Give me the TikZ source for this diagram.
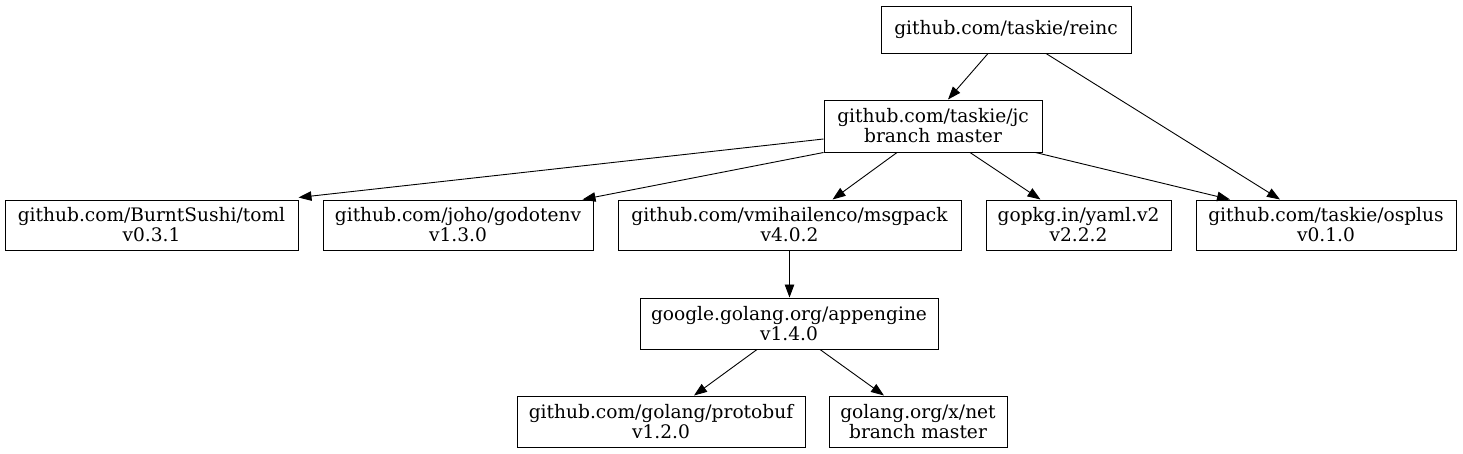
\documentclass[tikz,border=0pt]{standalone}
\usepackage{fontspec}
\setmainfont{DejaVu Serif}
\usetikzlibrary{arrows.meta,calc}
\begin{document}
\begin{tikzpicture}[x=1pt,y=-1pt,
  pkg/.style={draw,line width=1pt,inner sep=0pt,align=center,font=\fontsize{18.6}{20}\selectfont},
  dep/.style={line width=0.9pt,-{Triangle[length=13pt,width=9.5pt]}}]
\useasboundingbox (0,0) rectangle (1463,453);
\node[pkg,minimum width=250pt,minimum height=47pt] (reinc) at (1006,29.5) {github.com/taskie/reinc};
\node[pkg,minimum width=218pt,minimum height=52pt] (jc) at (933,126) {github.com/taskie/jc\\branch master};
\node[pkg,minimum width=293pt,minimum height=50pt] (toml) at (151.5,225) {github.com/BurntSushi/toml\\v0.3.1};
\node[pkg,minimum width=270pt,minimum height=50pt] (godotenv) at (458,225) {github.com/joho/godotenv\\v1.3.0};
\node[pkg,minimum width=343pt,minimum height=50pt] (msgpack) at (789.5,225) {github.com/vmihailenco/msgpack\\v4.0.2};
\node[pkg,minimum width=185pt,minimum height=50pt] (yaml) at (1078.5,225) {gopkg.in/yaml.v2\\v2.2.2};
\node[pkg,minimum width=260pt,minimum height=50pt] (osplus) at (1326,225) {github.com/taskie/osplus\\v0.1.0};
\node[pkg,minimum width=298pt,minimum height=51pt] (appengine) at (789,323.5) {google.golang.org/appengine\\v1.4.0};
\node[pkg,minimum width=288pt,minimum height=51pt] (protobuf) at (661,421.5) {github.com/golang/protobuf\\v1.2.0};
\node[pkg,minimum width=178pt,minimum height=51pt] (net) at (918,421.5) {golang.org/x/net\\branch master};
\draw[dep] ([xshift=-18pt]reinc.south) -- ([xshift=15pt]jc.north);
\draw[dep] ([xshift=40pt]reinc.south) -- ([xshift=-46pt]osplus.north);
\draw[dep] ([yshift=-13pt]jc.west) -- ([yshift=2pt]toml.north east);
\draw[dep] (jc.south west) -- ([xshift=-11pt]godotenv.north east);
\draw[dep] ([xshift=-36pt]jc.south) -- ([xshift=43pt]msgpack.north);
\draw[dep] ([xshift=37pt]jc.south) -- ([xshift=-38pt]yaml.north);
\draw[dep] ([xshift=-7pt]jc.south east) -- ([xshift=-96pt]osplus.north);
\draw[dep] (msgpack.south) -- (msgpack.south |- appengine.north);
\draw[dep] ([xshift=-32pt]appengine.south) -- ([xshift=33pt]protobuf.north);
\draw[dep] ([xshift=31pt]appengine.south) -- ([xshift=-34pt]net.north);
\end{tikzpicture}
\end{document}
